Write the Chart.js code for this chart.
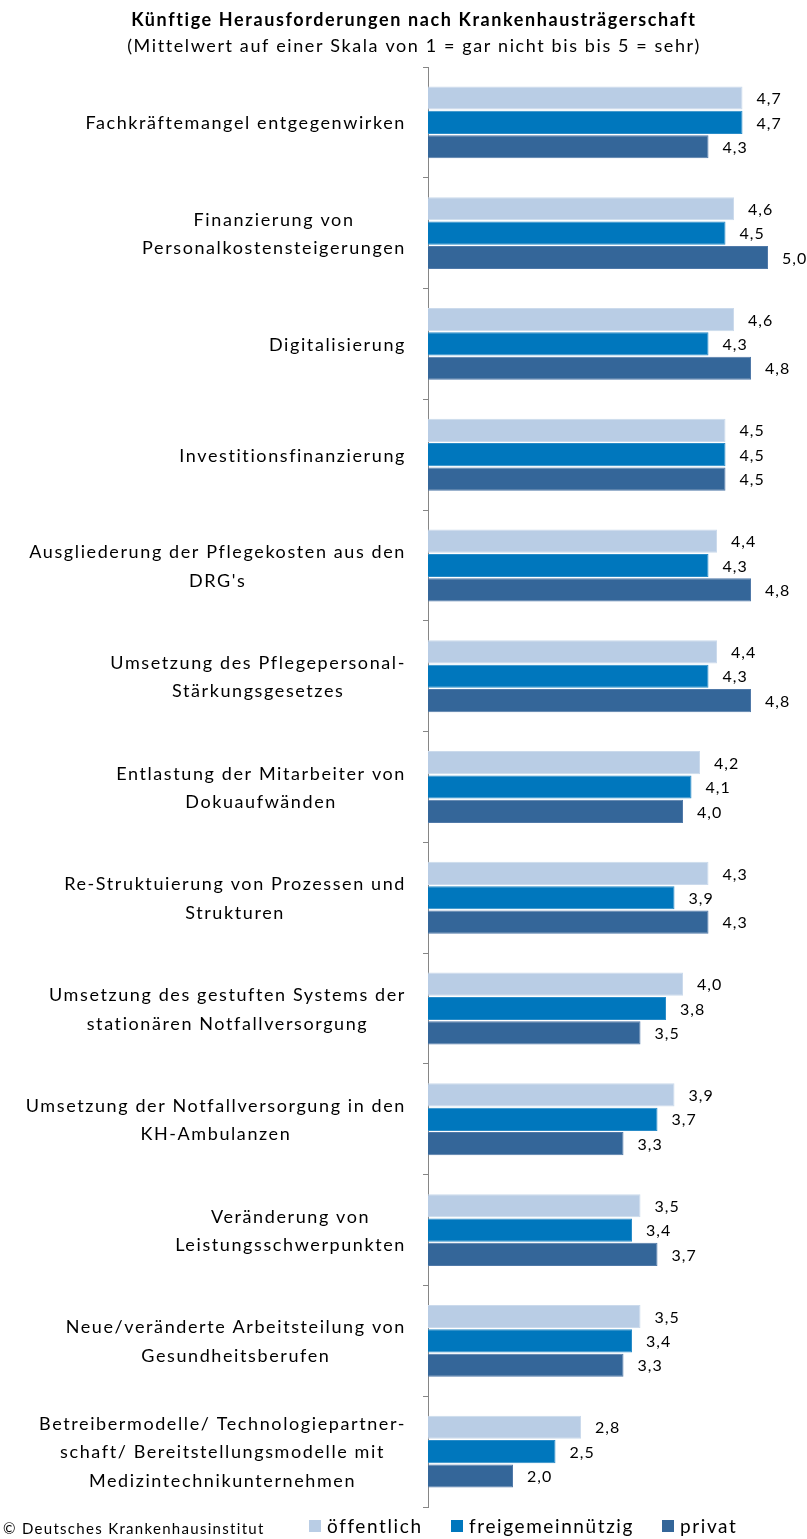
<!DOCTYPE html>
<html lang="de">
<head>
<meta charset="utf-8">
<script src="https://cdn.jsdelivr.net/npm/chart.js@4/dist/chart.umd.min.js"></script>
<style>
  html, body { margin: 0; padding: 0; background: #ffffff; }
  #wrap { width: 807px; height: 1539px; }
</style>
</head>
<body>
<div id="wrap"><canvas id="chart" width="807" height="1539"></canvas></div>
<script>
// Kategorien (mehrzeilige Beschriftungen als Arrays)
const categories = [
  ['Fachkräftemangel entgegenwirken'],
  ['Finanzierung von', 'Personalkostensteigerungen'],
  ['Digitalisierung'],
  ['Investitionsfinanzierung'],
  ['Ausgliederung der Pflegekosten aus den', "DRG's"],
  ['Umsetzung des Pflegepersonal-', 'Stärkungsgesetzes'],
  ['Entlastung der Mitarbeiter von', 'Dokuaufwänden'],
  ['Re-Struktuierung von Prozessen und', 'Strukturen'],
  ['Umsetzung des gestuften Systems der', 'stationären Notfallversorgung'],
  ['Umsetzung der Notfallversorgung in den', 'KH-Ambulanzen'],
  ['Veränderung von', 'Leistungsschwerpunkten'],
  ['Neue/veränderte Arbeitsteilung von', 'Gesundheitsberufen'],
  ['Betreibermodelle/ Technologiepartner-', 'schaft/ Bereitstellungsmodelle mit', 'Medizintechnikunternehmen']
];

const seriesNames = ['öffentlich', 'freigemeinnützig', 'privat'];

const oeffentlich       = [4.7, 4.6, 4.6, 4.5, 4.4, 4.4, 4.2, 4.3, 4.0, 3.9, 3.5, 3.5, 2.8];
const freigemeinnuetzig = [4.7, 4.5, 4.3, 4.5, 4.3, 4.3, 4.1, 3.9, 3.8, 3.7, 3.4, 3.4, 2.5];
const privat            = [4.3, 5.0, 4.8, 4.5, 4.8, 4.8, 4.0, 4.3, 3.5, 3.3, 3.7, 3.3, 2.0];

const titleText    = 'Künftige Herausforderungen nach Krankenhausträgerschaft';
const subtitleText = '(Mittelwert auf einer Skala von 1 = gar nicht bis bis 5 = sehr)';
const sourceText   = '© Deutsches Krankenhausinstitut';

const fillColors = ['#b9cde5', '#0077bd', '#346699'];
const edgeColors = ['#cbdaec', '#2a8cc8', '#5079a8'];
const FONT = 'Lato, "Open Sans", sans-serif';
const SPACING = '1.6px';

// Laufweite für alle Texte auf der Zeichenfläche
const textSpacing = {
  id: 'textSpacing',
  beforeUpdate(chart) { chart.ctx.letterSpacing = SPACING; },
  beforeDraw(chart) { chart.ctx.letterSpacing = SPACING; }
};

// Überschrift und Untertitel
const heading = {
  id: 'heading',
  afterDraw(chart) {
    const ctx = chart.ctx;
    ctx.save();
    ctx.letterSpacing = SPACING;
    ctx.fillStyle = '#000000';
    ctx.textAlign = 'center';
    ctx.textBaseline = 'middle';
    ctx.font = 'bold 18px ' + FONT;
    ctx.fillText(titleText, 414, 20);
    ctx.font = '18px ' + FONT;
    ctx.fillText(subtitleText, 414, 46);
    ctx.restore();
  }
};

// Kategoriebeschriftungen: Block rechtsbündig an der Achse, Zeilen zentriert
const categoryLabels = {
  id: 'categoryLabels',
  afterDraw(chart) {
    const ctx = chart.ctx;
    const yScale = chart.scales.y;
    const lineGap = 28.5;
    const rightEdge = 406;
    ctx.save();
    ctx.letterSpacing = SPACING;
    ctx.font = '18px ' + FONT;
    ctx.fillStyle = '#000000';
    ctx.textAlign = 'center';
    ctx.textBaseline = 'middle';
    chart.data.labels.forEach((lines, i) => {
      const yc = yScale.getPixelForTick(i);
      const maxW = Math.max(...lines.map(l => ctx.measureText(l).width));
      const cx = rightEdge - maxW / 2;
      const y0 = yc - (lines.length - 1) * lineGap / 2 + 1;
      lines.forEach((line, k) => ctx.fillText(line, cx, y0 + k * lineGap));
    });
    ctx.restore();
  }
};

// Wertbeschriftungen rechts neben den Balken
const valueLabels = {
  id: 'valueLabels',
  afterDatasetsDraw(chart) {
    const ctx = chart.ctx;
    ctx.save();
    ctx.letterSpacing = '1px';
    ctx.font = '16px ' + FONT;
    ctx.fillStyle = '#000000';
    ctx.textAlign = 'left';
    ctx.textBaseline = 'middle';
    chart.data.datasets.forEach((ds, di) => {
      chart.getDatasetMeta(di).data.forEach((bar, i) => {
        const txt = ds.data[i].toFixed(1).replace('.', ',');
        ctx.fillText(txt, bar.x + 14, bar.y + 1);
      });
    });
    ctx.restore();
  }
};

// Legende und Quellenangabe am unteren Rand
const footer = {
  id: 'footer',
  afterDraw(chart) {
    const ctx = chart.ctx;
    ctx.save();
    ctx.fillStyle = '#000000';
    ctx.textAlign = 'left';
    ctx.textBaseline = 'middle';
    ctx.letterSpacing = '1.3px';
    ctx.font = '15px ' + FONT;
    ctx.fillText(sourceText, 3, 1529);

    ctx.letterSpacing = SPACING;
    ctx.font = '19px ' + FONT;
    const boxX = [309, 451, 662];
    const box = 12, yMid = 1526;
    chart.data.datasets.forEach((ds, i) => {
      ctx.fillStyle = ds.backgroundColor;
      ctx.fillRect(boxX[i], yMid - box / 2, box, box);
      ctx.fillStyle = '#000000';
      ctx.fillText(ds.label, boxX[i] + box + 6, yMid + 1);
    });
    ctx.restore();
  }
};

new Chart(document.getElementById('chart'), {
  type: 'bar',
  data: {
    labels: categories,
    datasets: [
      { label: seriesNames[0], data: oeffentlich, backgroundColor: fillColors[0], borderColor: edgeColors[0] },
      { label: seriesNames[1], data: freigemeinnuetzig, backgroundColor: fillColors[1], borderColor: edgeColors[1] },
      { label: seriesNames[2], data: privat, backgroundColor: fillColors[2], borderColor: edgeColors[2] }
    ]
  },
  options: {
    indexAxis: 'y',
    responsive: false,
    animation: false,
    devicePixelRatio: 1,
    categoryPercentage: 0.66,
    barPercentage: 0.95,
    borderWidth: 1,
    borderSkipped: false,
    layout: { padding: { left: 0, right: 39, top: 67, bottom: 32 } },
    scales: {
      x: {
        display: false,
        min: 1,
        max: 5
      },
      y: {
        afterFit(scale) { scale.width = 428; },
        border: { display: true, color: '#868686', width: 1 },
        grid: { display: true, drawOnChartArea: false, drawTicks: true, tickLength: 5, color: '#868686', offset: true },
        ticks: { display: false }
      }
    },
    plugins: {
      title: { display: false },
      subtitle: { display: false },
      legend: { display: false },
      tooltip: { enabled: false }
    }
  },
  plugins: [textSpacing, heading, categoryLabels, valueLabels, footer]
});
</script>
</body>
</html>
